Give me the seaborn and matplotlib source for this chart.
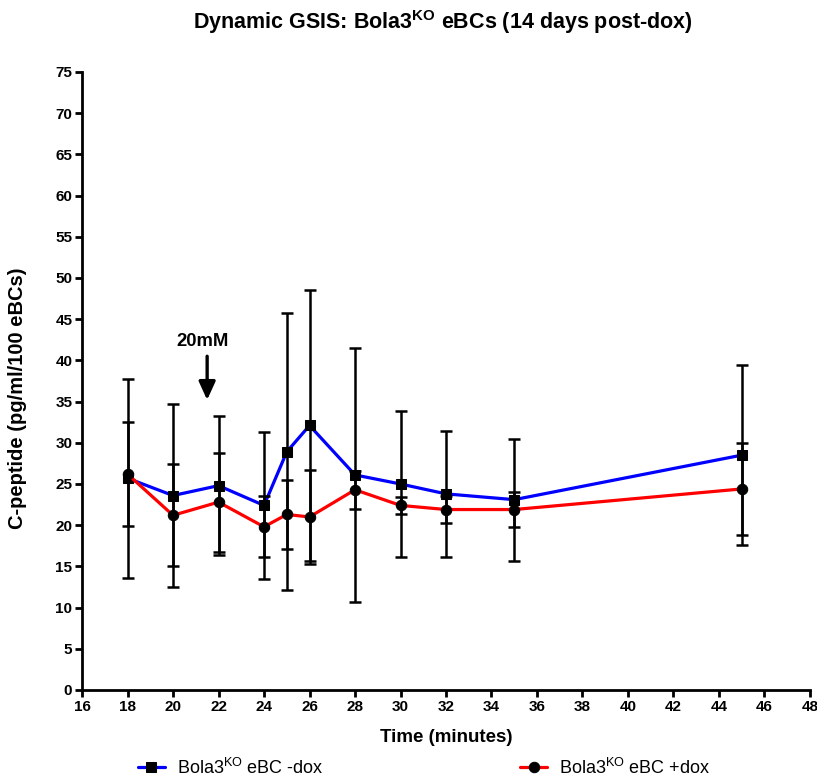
import pandas as pd
import matplotlib
matplotlib.use("Agg")
import matplotlib.pyplot as plt
import seaborn as sns

# data
time_min = [18, 20, 22, 24, 25, 26, 28, 30, 32, 35, 45]

minus_dox_mean = [25.7, 23.6, 24.8, 22.4, 28.9, 32.1, 26.1, 25.0, 23.8, 23.1, 28.5]
minus_dox_err = [12.1, 11.1, 8.4, 8.9, 16.8, 16.5, 15.4, 8.9, 7.6, 7.4, 10.9]

plus_dox_mean = [26.2, 21.2, 22.8, 19.8, 21.3, 21.0, 24.3, 22.4, 21.9, 21.9, 24.4]
plus_dox_err = [6.3, 6.2, 6.0, 3.7, 4.2, 5.7, 2.3, 1.0, 1.6, 2.1, 5.6]

x_ticks = list(range(16, 49, 2))
y_ticks = list(range(0, 76, 5))

sns.set_style("ticks")
plt.rcParams['font.family'] = ['Liberation Sans', 'DejaVu Sans']
plt.rcParams['mathtext.fontset'] = 'custom'
plt.rcParams['mathtext.rm'] = 'Liberation Sans'
plt.rcParams['mathtext.bf'] = 'Liberation Sans:bold'
for key in ['text.color', 'axes.labelcolor', 'xtick.color', 'ytick.color', 'axes.edgecolor']:
    plt.rcParams[key] = 'black'

df = pd.DataFrame({
    'time': time_min * 2,
    'cpep': minus_dox_mean + plus_dox_mean,
    'err': minus_dox_err + plus_dox_err,
    'group': ['-dox'] * len(time_min) + ['+dox'] * len(time_min),
})
minus = df[df['group'] == '-dox']
plus = df[df['group'] == '+dox']

fig = plt.figure(figsize=(8.17, 7.84), dpi=100)
ax = fig.add_axes([0.1004, 0.1199, 0.8910, 0.7883])

# error bars first, black
ax.errorbar(minus['time'], minus['cpep'], yerr=minus['err'], fmt='none',
            ecolor='black', elinewidth=1.8, capsize=4, capthick=1.8, zorder=3)
ax.errorbar(plus['time'], plus['cpep'], yerr=plus['err'], fmt='none',
            ecolor='black', elinewidth=1.8, capsize=4, capthick=1.8, zorder=3)

sns.lineplot(data=minus, x='time', y='cpep', ax=ax, color='#0000ff', linewidth=2.3,
             marker='s', markersize=7, markerfacecolor='black', markeredgecolor='black',
             label='Bola3$\\mathregular{^{KO}}$ eBC -dox', zorder=2)
sns.lineplot(data=plus, x='time', y='cpep', ax=ax, color='#ff0000', linewidth=2.3,
             marker='o', markersize=7.5, markerfacecolor='black', markeredgecolor='black',
             label='Bola3$\\mathregular{^{KO}}$ eBC +dox', zorder=2)

ax.set_xlim(16, 48)
ax.set_ylim(0, 75)
ax.set_xticks(x_ticks)
ax.set_yticks(y_ticks)
sns.despine(ax=ax)
for side in ['left', 'bottom']:
    ax.spines[side].set_linewidth(2.0)
ax.tick_params(axis='both', width=2.0, length=5, labelsize=11, pad=2)
for lbl in ax.get_xticklabels() + ax.get_yticklabels():
    lbl.set_fontweight('bold')

ax.set_xlabel('Time (minutes)', fontsize=13.5, fontweight='bold', labelpad=11)
ax.set_ylabel('C-peptide (pg/ml/100 eBCs)', fontsize=14.5, fontweight='bold')
ax.yaxis.set_label_coords(-0.0755, 0.472)

# glucose step annotation
ax.annotate('', xy=(21.5, 35.2), xytext=(21.5, 40.5),
            arrowprops=dict(arrowstyle='-|>,head_width=0.5,head_length=1.1',
                            color='black', lw=2.4, shrinkA=0, shrinkB=0))
ax.text(21.3, 41.2, '20mM', ha='center', va='bottom', fontsize=13.3, fontweight='bold')

fig.suptitle('Dynamic GSIS: Bola3$\\mathbf{^{KO}}$ eBCs (14 days post-dox)',
             x=0.542, y=0.99, fontsize=15.5, fontweight='bold')

handles, labels = ax.get_legend_handles_labels()
ax.get_legend().remove()
fig.legend(handles, labels, loc='center', bbox_to_anchor=(0.519, 0.021), ncol=2,
           frameon=False, fontsize=13, columnspacing=10.9, handlelength=1.5,
           handletextpad=0.65)

fig.savefig('out.png', dpi=100)
